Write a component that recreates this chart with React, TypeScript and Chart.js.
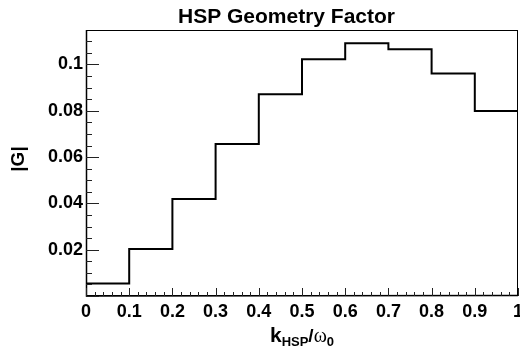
import React, { useEffect, useRef } from "react";
import { Chart, registerables } from "chart.js";

Chart.register(...registerables);

const binEdges = [0, 0.1, 0.2, 0.3, 0.4, 0.5, 0.6, 0.7, 0.8, 0.9, 1.0];
const binValues = [0.0054, 0.0203, 0.0419, 0.0657, 0.0871, 0.1023, 0.1092, 0.1066, 0.0961, 0.0799];
const xTickValues = [0, 0.1, 0.2, 0.3, 0.4, 0.5, 0.6, 0.7, 0.8, 0.9, 1];
const xTickLabels = ["0", "0.1", "0.2", "0.3", "0.4", "0.5", "0.6", "0.7", "0.8", "0.9", "1"];
const yTickValues = [0.02, 0.04, 0.06, 0.08, 0.1];
const yTickLabels = ["0.02", "0.04", "0.06", "0.08", "0.1"];
const xMinorStep = 0.02;
const yMinorStep = 0.005;
const yMax = 0.1149;
const titleText = "HSP Geometry Factor";
const yTitleText = "|G|";

const FONT = '"Liberation Sans", Arial, Helvetica, sans-serif';

const rootStylePlugin = {
  id: "rootStyle",
  afterDraw(chart: any) {
    const { ctx, chartArea } = chart;
    const { left, right, top, bottom } = chartArea;
    const xs = chart.scales.x;
    const ys = chart.scales.y;
    ctx.save();
    ctx.strokeStyle = "#000";
    ctx.lineWidth = 1;
    ctx.strokeRect(left + 0.5, top + 0.5, right - left - 1, bottom - top - 1);
    ctx.lineWidth = 1.5;
    ctx.beginPath();
    ctx.moveTo(left + 0.5, top);
    ctx.lineTo(left + 0.5, bottom);
    ctx.lineTo(right, bottom - 0.5);
    ctx.stroke();

    ctx.lineWidth = 1;
    ctx.strokeStyle = "#222";
    ctx.beginPath();
    for (let i = 0; i * yMinorStep <= yMax + 1e-9; i++) {
      const v = i * yMinorStep;
      const major = i % 4 === 0;
      const py = Math.round(ys.getPixelForValue(v)) + 0.5;
      ctx.moveTo(left, py);
      ctx.lineTo(left + (major ? 13 : 6), py);
    }
    for (let i = 0; i * xMinorStep <= 1 + 1e-9; i++) {
      const v = i * xMinorStep;
      const major = i % 5 === 0;
      const px = Math.round(xs.getPixelForValue(v)) + 0.5;
      ctx.moveTo(px, bottom);
      ctx.lineTo(px, bottom - (major ? 8 : 4));
    }
    ctx.stroke();

    ctx.fillStyle = "#000";
    ctx.font = `bold 21px ${FONT}`;
    ctx.textAlign = "center";
    ctx.textBaseline = "alphabetic";
    ctx.fillText(titleText, 286.5, 23);

    ctx.save();
    ctx.translate(19, 159);
    ctx.rotate(-Math.PI / 2);
    ctx.font = `bold 19px ${FONT}`;
    ctx.textAlign = "center";
    ctx.textBaseline = "middle";
    ctx.fillText(yTitleText, 0, 0);
    ctx.restore();

    const parts = [
      { t: "k", font: `bold 21px ${FONT}`, dy: 0 },
      { t: "HSP", font: `bold 13px ${FONT}`, dy: 4 },
      { t: "/", font: `bold 19px ${FONT}`, dy: 0 },
      { t: "ω", font: `20px "Liberation Serif", serif`, dy: 0 },
      { t: "0", font: `bold 13px ${FONT}`, dy: 4 },
    ];
    let total = 0;
    const widths: number[] = [];
    for (const p of parts) {
      ctx.font = p.font;
      const w = ctx.measureText(p.t).width;
      widths.push(w);
      total += w;
    }
    let x = (left + right) / 2 - total / 2;
    ctx.textAlign = "left";
    ctx.textBaseline = "alphabetic";
    parts.forEach((p, i) => {
      ctx.font = p.font;
      ctx.fillText(p.t, x, 342 + p.dy);
      x += widths[i];
    });
    ctx.restore();
  },
};

export default function App() {
  const ref = useRef<HTMLCanvasElement>(null);
  useEffect(() => {
    if (!ref.current) return;
    const points = binEdges.map((e, i) => ({ x: e, y: binValues[Math.min(i, binValues.length - 1)] }));
    const chart = new Chart(ref.current, {
      type: "line",
      data: {
        datasets: [
          {
            data: points,
            stepped: "before",
            borderColor: "#000",
            borderWidth: 2,
            pointRadius: 0,
            fill: false,
          },
        ],
      },
      options: {
        animation: false,
        responsive: false,
        devicePixelRatio: 1,
        layout: { padding: { left: 0, top: 30, right: 2, bottom: 0 } },
        plugins: { legend: { display: false }, tooltip: { enabled: false }, title: { display: false } },
        scales: {
          x: {
            type: "linear",
            min: 0,
            max: 1,
            grid: { display: false, drawTicks: false },
            border: { display: false },
            afterBuildTicks: (s: any) => {
              s.ticks = xTickValues.map((v) => ({ value: v }));
            },
            afterFit: (s: any) => {
              s.height = 51;
              s.paddingLeft = 0;
              s.paddingRight = 0;
            },
            ticks: {
              color: "#000",
              font: { family: FONT, size: 18, weight: "bold" },
              padding: 5,
              maxRotation: 0,
              autoSkip: false,
              callback: (v: any) => {
                const i = xTickValues.findIndex((t) => Math.abs(t - Number(v)) < 1e-9);
                return i >= 0 ? xTickLabels[i] : "";
              },
            },
          },
          y: {
            type: "linear",
            min: 0,
            max: yMax,
            grid: { display: false, drawTicks: false },
            border: { display: false },
            afterBuildTicks: (s: any) => {
              s.ticks = yTickValues.map((v) => ({ value: v }));
            },
            afterFit: (s: any) => {
              s.width = 86;
              s.paddingTop = 0;
              s.paddingBottom = 0;
            },
            ticks: {
              color: "#000",
              font: { family: FONT, size: 18, weight: "bold" },
              padding: 3,
              autoSkip: false,
              callback: (v: any) => {
                const i = yTickValues.findIndex((t) => Math.abs(t - Number(v)) < 1e-9);
                return i >= 0 ? yTickLabels[i] : "";
              },
            },
          },
        },
      },
      plugins: [rootStylePlugin],
    });
    return () => chart.destroy();
  }, []);
  return (
    <div style={{ position: "absolute", left: 0, top: 0, width: 520, height: 347, background: "#fff" }}>
      <canvas ref={ref} width={520} height={347} style={{ display: "block" }} />
    </div>
  );
}
